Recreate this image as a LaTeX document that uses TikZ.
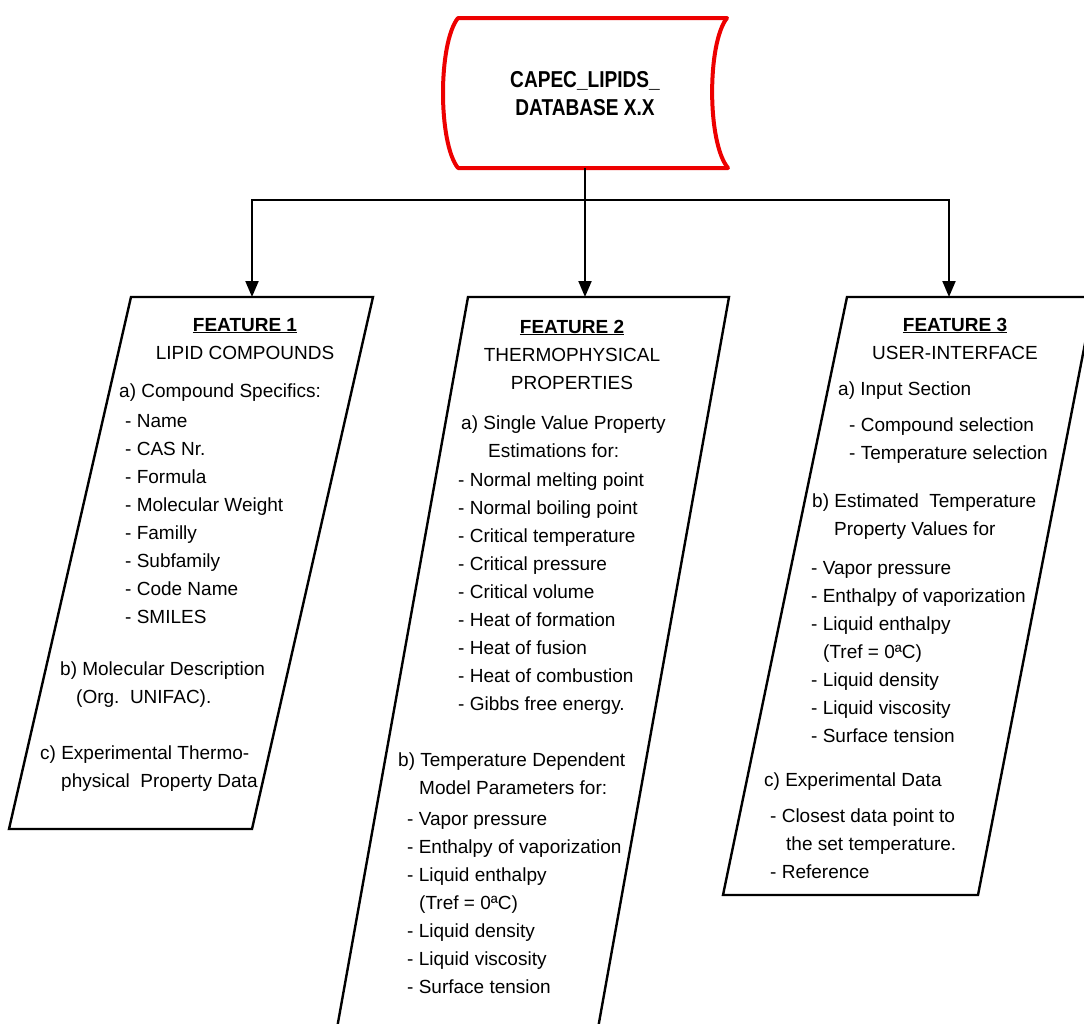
\documentclass[tikz,border=0pt]{standalone}
\usepackage{fontspec}
\setmainfont{Liberation Sans}
\newfontfamily\dbfont[FakeStretch=0.83]{Liberation Sans}
\usetikzlibrary{arrows.meta}

\tikzset{
  dbshape/.style={draw={rgb,255:red,237;green,0;blue,0}, line width=4pt, line join=round},
  featbox/.style={draw=black, line width=2.4pt, line join=miter},
  link/.style={draw=black, line width=2pt, -{Triangle[length=16pt,width=13pt]}},
  % multi-line nodes: base anchor sits on the last line
  txt/.style={anchor=base west, inner sep=0pt, align=left, font=\fontsize{19}{28}\selectfont},
  head/.style={anchor=base, inner sep=0pt, align=center, font=\fontsize{19}{28}\selectfont},
}

\begin{document}
\begin{tikzpicture}[x=1pt,y=-1pt]
\useasboundingbox (0,0) rectangle (1084,1023);
\clip (0,0) rectangle (1084,1023);

%Shape: database (stored data)
\draw[dbshape] (458,18) -- (727,18) .. controls (707,43) and (707,143) .. (728,168) -- (458,168) .. controls (438,143) and (438,43) .. (458,18) -- cycle ;
\node[head, font=\dbfont\fontsize{23}{28}\selectfont\bfseries] (db) at (585,115) {CAPEC\_LIPIDS\_\\DATABASE X.X};
\coordinate (dbbot) at (585,168);

%Shape: feature boxes
\draw[featbox] (131,297) -- (373,297) -- (252,829) -- (9,829) -- cycle ;
\draw[featbox] (468,297) -- (729,297) -- (595,1045) -- (334,1045) -- cycle ;
\draw[featbox] (847,297) -- (1094,297) -- (978,895) -- (723,895) -- cycle ;

%Connectors
\coordinate (busM) at (585,200);
\coordinate (f1top) at (252,297);
\coordinate (f2top) at (585,297);
\coordinate (f3top) at (949,297);
\draw[link] (busM) -| (f1top);
\draw[link] (busM) -| (f3top);
\draw[link] (dbbot) -- (f2top);

% Text: feature 1
\node[head] (h1) at (245,359) {\underline{\textbf{FEATURE 1}}\\LIPID COMPOUNDS};
\node[txt] (a1) at (119,397) {a) Compound Specifics:};
\node[txt] (l1) at (125,623) {- Name\\- CAS Nr.\\- Formula\\- Molecular Weight\\- Familly\\- Subfamily\\- Code Name\\- SMILES};
\node[txt] (b1) at (60,703) {b) Molecular Description\\\hspace*{16pt}(Org.\ \ UNIFAC).};
\node[txt] (c1) at (40,787) {c) Experimental Thermo-\\\hspace*{21pt}physical\ \ Property Data};

% Text: feature 2
\node[head] (h2) at (572,389) {\underline{\textbf{FEATURE 2}}\\THERMOPHYSICAL\\PROPERTIES};
\node[txt] (a2) at (461,457) {a) Single Value Property\\\hspace*{27pt}Estimations for:};
\node[txt] (l2a) at (458,710) {- Normal melting point\\- Normal boiling point\\- Critical temperature\\- Critical pressure\\- Critical volume\\- Heat of formation\\- Heat of fusion\\- Heat of combustion\\- Gibbs free energy.};
\node[txt] (b2) at (398,794) {b) Temperature Dependent\\\hspace*{21pt}Model Parameters for:};
\node[txt] (l2b) at (407,993) {- Vapor pressure\\- Enthalpy of vaporization\\- Liquid enthalpy\\\hspace*{12pt}(Tref = 0ªC)\\- Liquid density\\- Liquid viscosity\\- Surface tension};

% Text: feature 3
\node[head] (h3) at (955,359) {\underline{\textbf{FEATURE 3}}\\USER-INTERFACE};
\node[txt] (a3) at (838,395) {a) Input Section};
\node[txt] (l3a) at (849,459) {- Compound selection\\- Temperature selection};
\node[txt] (b3) at (812,535) {b) Estimated\ \ Temperature\\\hspace*{22pt}Property Values for};
\node[txt] (l3b) at (811,742) {- Vapor pressure\\- Enthalpy of vaporization\\- Liquid enthalpy\\\hspace*{12pt}(Tref = 0ªC)\\- Liquid density\\- Liquid viscosity\\- Surface tension};
\node[txt] (c3) at (764,786) {c) Experimental Data};
\node[txt] (l3c) at (770,878) {- Closest data point to\\\hspace*{16pt}the set temperature.\\- Reference};

\end{tikzpicture}
\end{document}
